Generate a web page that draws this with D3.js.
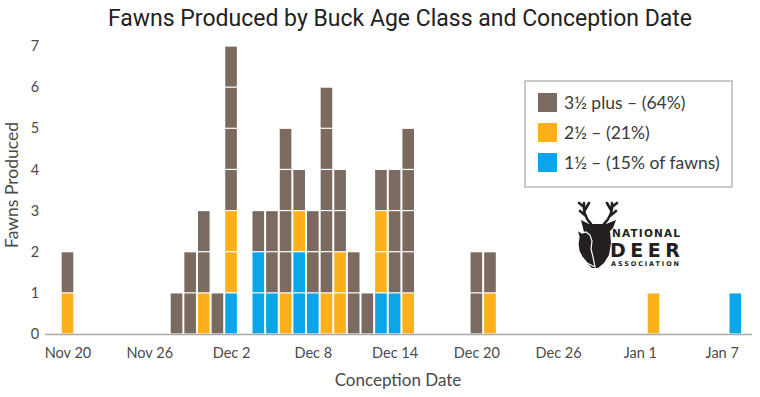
<!DOCTYPE html>
<html>
<head>
<meta charset="utf-8">
<script src="https://cdn.jsdelivr.net/npm/d3@7"></script>
<style>
  body { margin: 0; background: #fff; }
  svg { display: block; }
  text { font-family: Lato, "Open Sans", sans-serif; }
</style>
</head>
<body>
<script>
// conception dates (one bar per day) and fawns per buck age class
const days = ["2018-11-20","2018-11-28","2018-11-29","2018-11-30","2018-12-01","2018-12-02",
  "2018-12-04","2018-12-05","2018-12-06","2018-12-07","2018-12-08","2018-12-09","2018-12-10",
  "2018-12-11","2018-12-12","2018-12-13","2018-12-14","2018-12-15","2018-12-20","2018-12-21",
  "2019-01-02","2019-01-08"];
const yearling = [0,0,0,0,0,1, 2,1,0,2,1,0,0, 0,0,1,1,0,0,0, 0,1];   // 1½
const twoYear  = [1,0,0,1,0,2, 0,0,1,1,0,1,2, 0,0,2,0,1,0,1, 1,0];   // 2½
const mature   = [1,1,2,2,1,4, 1,2,4,1,2,5,2, 2,1,1,3,4,2,1, 0,0];   // 3½ plus
const seriesNames = ["1½ – (15% of fawns)", "2½ – (21%)", "3½ plus – (64%)"];
const colors = ["#0aa6e9", "#fdb01a", "#7a6a5f"];
const xTicks = ["2018-11-20","2018-11-26","2018-12-02","2018-12-08","2018-12-14",
  "2018-12-20","2018-12-26","2019-01-01","2019-01-07"];
const yTicks = [0,1,2,3,4,5,6,7];

const width = 760, height = 397;
const svg = d3.select("body").append("svg").attr("width", width).attr("height", height);

const parse = d3.utcParse("%Y-%m-%d");
const x = d3.scaleUtc()
  .domain([parse("2018-11-20"), parse("2019-01-08")])
  .range([67.5, 735.3]);
const y = d3.scaleLinear().domain([0, 7]).range([334, 46]);
const barW = 11.6;

// one cell per fawn, stacked bottom-up: 1½, 2½, 3½+
const cells = [];
days.forEach((d, i) => {
  let base = 0;
  [yearling[i], twoYear[i], mature[i]].forEach((n, s) => {
    for (let k = 0; k < n; k++) {
      cells.push({date: parse(d), s, y0: base, y1: base + 1});
      base++;
    }
  });
});

svg.append("g").selectAll("rect")
  .data(cells)
  .join("rect")
  .attr("x", d => x(d.date) - barW / 2)
  .attr("width", barW)
  .attr("y", d => y(d.y1) + 0.6)
  .attr("height", d => y(d.y0) - y(d.y1) - 1.2)
  .attr("fill", d => colors[d.s]);

// baseline
svg.append("line")
  .attr("x1", 45).attr("x2", 752)
  .attr("y1", y(0) + 0.5).attr("y2", y(0) + 0.5)
  .attr("stroke", "#a9a9a9").attr("stroke-width", 1.5);

// x axis
const xAxis = svg.append("g")
  .attr("transform", `translate(0,${y(0)})`)
  .call(d3.axisBottom(x).tickValues(xTicks.map(parse))
    .tickFormat(d3.utcFormat("%b %-d")).tickSize(0).tickPadding(14));
xAxis.select(".domain").remove();
xAxis.selectAll("text").attr("font-size", 14.5).attr("fill", "#4a4a4a")
  .style("font-family", "Lato, sans-serif");

// y axis
const yAxis = svg.append("g")
  .attr("transform", "translate(40,0)")
  .call(d3.axisLeft(y).tickValues(yTicks).tickFormat(d3.format("d")).tickSize(0).tickPadding(0));
yAxis.select(".domain").remove();
yAxis.selectAll("text").attr("font-size", 14.5).attr("fill", "#4a4a4a")
  .attr("text-anchor", "middle").attr("dx", -5)
  .style("font-family", "Lato, sans-serif");

// titles
svg.append("text")
  .attr("x", 400).attr("y", 26)
  .attr("text-anchor", "middle")
  .attr("font-size", 23).attr("font-weight", 400)
  .attr("fill", "#222")
  .style("font-family", "Roboto, sans-serif")
  .text("Fawns Produced by Buck Age Class and Conception Date");

svg.append("text")
  .attr("x", 398).attr("y", 386)
  .attr("text-anchor", "middle")
  .attr("font-size", 17).attr("fill", "#4a4a4a")
  .text("Conception Date");

svg.append("text")
  .attr("transform", "translate(18,185) rotate(-90)")
  .attr("text-anchor", "middle")
  .attr("font-size", 17.5).attr("fill", "#4a4a4a")
  .text("Fawns Produced");

// legend
const legend = svg.append("g").attr("transform", "translate(525,81)");
legend.append("rect")
  .attr("width", 207).attr("height", 106)
  .attr("fill", "#fff").attr("stroke", "#b9b9b9").attr("stroke-width", 1.5);
[2, 1, 0].forEach((s, i) => {
  const row = legend.append("g").attr("transform", `translate(13,${12 + i * 30})`);
  row.append("rect").attr("width", 19).attr("height", 19).attr("fill", colors[s]);
  row.append("text").attr("x", 26).attr("y", 15.5)
    .attr("font-size", 17.5).attr("fill", "#3a3a3a")
    .text(seriesNames[s]);
});

// National Deer Association mark
const logo = svg.append("g").attr("transform", "translate(576,199)");
// antlers
logo.append("path")
  .attr("fill", "none").attr("stroke", "#231f20").attr("stroke-width", 2.6)
  .attr("stroke-linecap", "round").attr("stroke-linejoin", "round")
  .attr("d", "M15 25 C10 20 7 14 8 4 M10 17 L4 12 M9 11 L13 4 M8 8 L3 4 " +
    "M28 25 C33 20 37 14 36 4 M34 17 L40 12 M35 11 L31 4 M36 8 L41 4");
// buck head
logo.append("path")
  .attr("fill", "#231f20")
  .attr("d", "M5 21 L13 25 L30 25 L40 21 L37 29 L34 32 L35 44 L33 56 L28 64 L22 69 " +
    "L16 69 L10 63 L6 58 L4 50 L4 42 L8 33 Z");
// fawn face, set off from the buck by a white outline
logo.append("path")
  .attr("fill", "#231f20").attr("stroke", "#fff").attr("stroke-width", 1.2)
  .attr("d", "M1 31 L6 34 L10 33 L14 36 L16 42 L15 50 L17 58 L19 68 L11 64 L6 58 " +
    "L3 52 L2 45 L3 38 Z");
logo.append("text").attr("x", 36).attr("y", 37.5)
  .attr("font-size", 10.5).attr("font-weight", 700).attr("fill", "#231f20")
  .style("font-family", "'DejaVu Sans', sans-serif").attr("textLength", 68)
  .text("NATIONAL");
logo.append("text").attr("x", 34).attr("y", 58)
  .attr("font-size", 19).attr("font-weight", 900).attr("fill", "#231f20")
  .style("font-family", "'DejaVu Sans', sans-serif").attr("textLength", 70)
  .text("DEER");
logo.append("text").attr("x", 35).attr("y", 66.5)
  .attr("font-size", 6.5).attr("font-weight", 700).attr("fill", "#231f20")
  .style("font-family", "'DejaVu Sans', sans-serif").attr("textLength", 68)
  .text("ASSOCIATION");
</script>
</body>
</html>
